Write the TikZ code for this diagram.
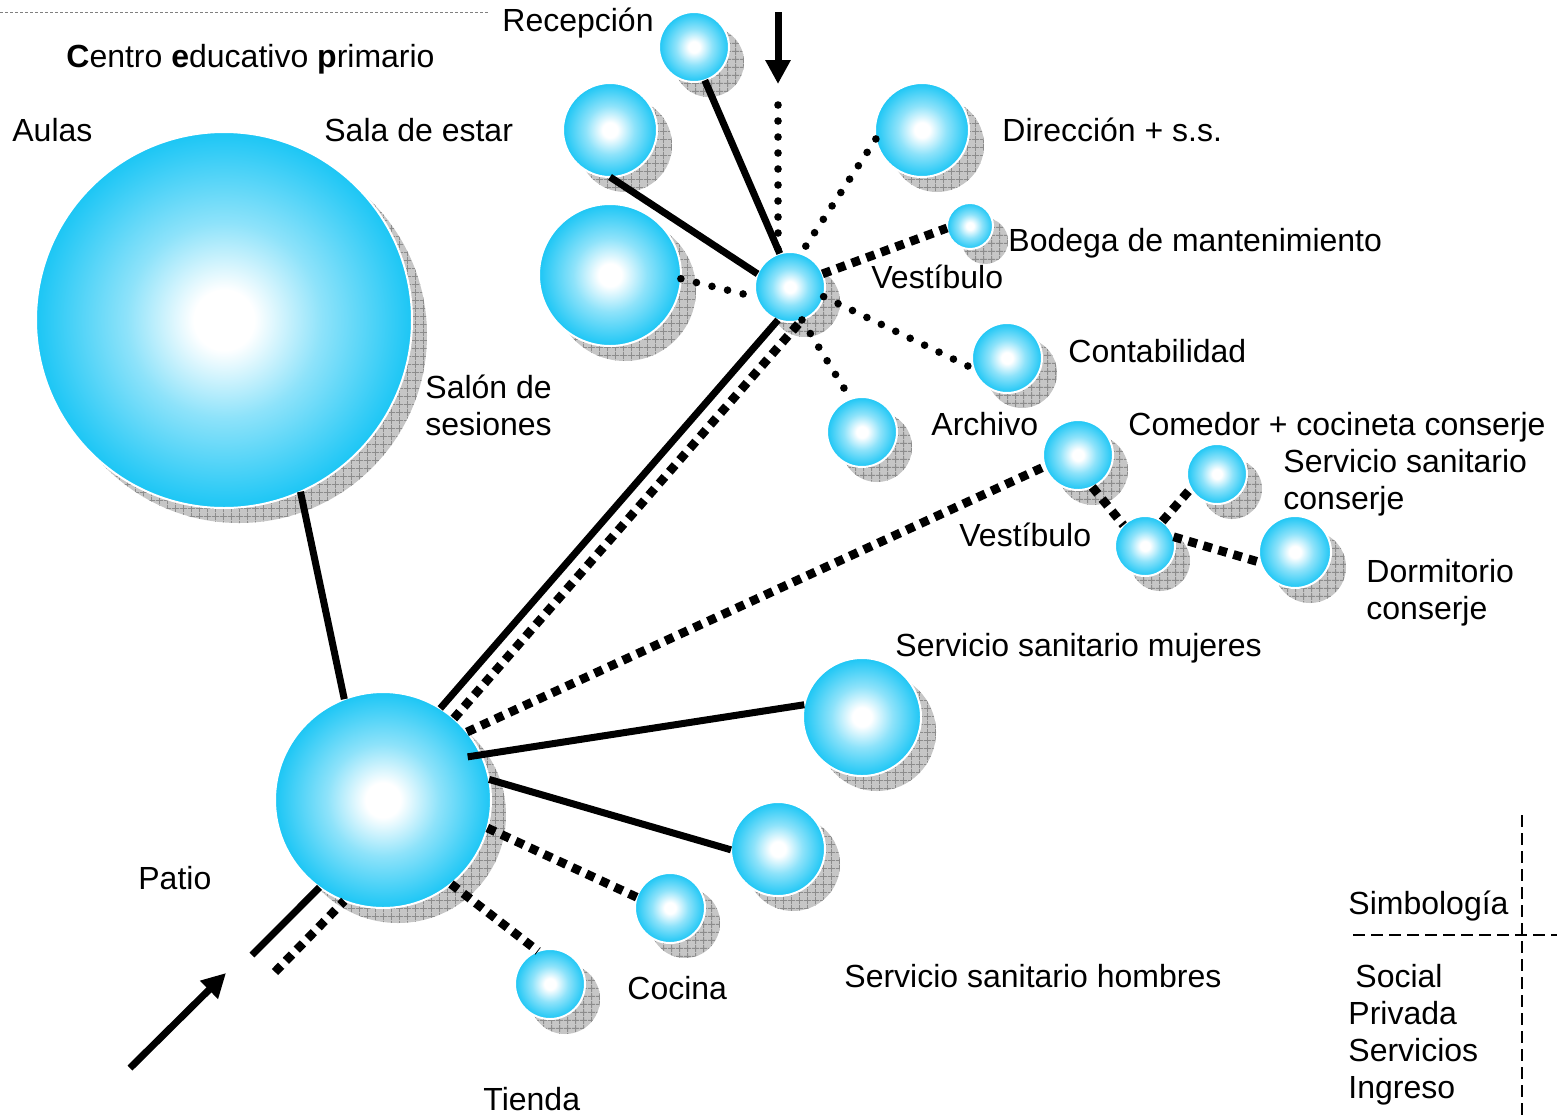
\documentclass[tikz,border=0pt]{standalone}
\usepackage{fontspec}
\setmainfont{Liberation Sans}
\usetikzlibrary{arrows.meta,patterns.meta,calc}
\definecolor{ballblue}{RGB}{28,198,245}
\definecolor{shadefill}{RGB}{198,198,198}
\definecolor{shadeline}{RGB}{140,140,140}
\pgfdeclareradialshading{ballshade}{\pgfpoint{0bp}{0bp}}{color(0bp)=(white); color(4bp)=(white); color(13bp)=(ballblue!50); color(25bp)=(ballblue); color(50bp)=(ballblue)}
\begin{document}
\begin{tikzpicture}[x=0.5pt,y=-0.5pt,
  ball/.style={circle, minimum size=#1pt, inner sep=0pt, outer sep=0pt, draw=white, line width=1pt, shading=ballshade},
  shadowst/.style={fill=shadefill, postaction={pattern={Hatch[angle=0,distance=4pt,line width=0.45pt]}, pattern color=shadeline}},
  solidc/.style={line width=3.5pt},
  rdot/.style={line width=3.8pt, line cap=round, dash pattern=on 0pt off 8pt},
  sqdot/.style={line width=4.4pt, dash pattern=on 4.4pt off 3.4pt},
  arrowc/.style={line width=3.5pt, -{Triangle[length=12pt,width=12pt]}},
  legline/.style={line width=0.8pt, dash pattern=on 6pt off 3pt},
  lbl/.style={anchor=base west, inner sep=0pt, font=\fontsize{16pt}{18.5pt}\selectfont}]
\useasboundingbox (0,0) rectangle (1557,1115);

% balls with shadows
\foreach \nm/\cx/\cy/\r in {aulas/224/320/188, patio/383/800/108, vest/790/287/35,
  recep/694/47/35, sala/610/130/47, salon/610/275/71, direc/922/130/47,
  bodega/970/226/23, conta/1007/358/35, archivo/862/432/35, comedor/1078/455/35,
  sscons/1217/474/30, vest2/1145/546/30, dormi/1295/552/36, ssm/862/717/59,
  ssh/778/849/47, cocina/670/908/35, tienda/550/984/35}{
  \fill[shadowst] (\cx+15,\cy+15) circle[radius=\r];
  \node[ball=\r] (\nm) at (\cx,\cy) {};
}

% connectors
\draw[solidc] (aulas.-66.5) -- (patio.111);
\draw[solidc] (recep.-72) -- (vest.107);
\draw[solidc] (sala.-90) -- (vest.158);
\draw[rdot] (salon.-3.5) -- (vest.-163);
\draw[rdot] (direc.-169.5) -- (vest.72);
\draw[sqdot] (vest.22.6) -- (bodega.-175);
\draw[rdot] (vest.-16.6) -- (conta.-162);
\draw[rdot] (vest.-70) -- (archivo.109);
\draw[solidc] (patio.58.2) -- (vest.-110);
\draw[sqdot] (patio.49) -- (vest.-70);
\draw[sqdot] (patio.39.6) -- (comedor.-161);
\draw[solidc] ($(patio)!0.88!(patio.27)$) -- (ssm.168.5);
\draw[solidc] (patio.11) -- (ssh.-179);
\draw[sqdot] (patio.-15.8) -- (cocina.162);
\draw[sqdot] (patio.-51.5) -- (tienda.110);
\draw[sqdot] (comedor.-66.8) -- (vest2.136);
\draw[sqdot] (vest2.55) -- (sscons.-151);
\draw[sqdot] (vest2.18) -- (dormi.-163);

% entries
\coordinate (inA) at (252,955);
\coordinate (inB) at (275,972);
\draw[solidc] (inA) -- (patio.-126);
\draw[sqdot] (inB) -- (patio.-111);
\coordinate (arrS) at (130,1068);
\coordinate (arrE) at (226,973);
\draw[arrowc] (arrS) -- (arrE);
\coordinate (topS) at (778,12);
\coordinate (topE) at (778,84);
\draw[arrowc] (topS) -- (topE);
\coordinate (topD) at (778,105);
\draw[rdot] (topD) -- (vest.110);

% top rule and legend lines
\coordinate (rule1) at (0,12);
\coordinate (rule2) at (490,12);
\draw[gray, line width=0.5pt, dash pattern=on 1.5pt off 1pt] (rule1) -- (rule2);
\coordinate (lv1) at (1522,815);
\coordinate (lv2) at (1522,1115);
\coordinate (lh1) at (1353,935);
\coordinate (lh2) at (1557,935);
\draw[legline] (lv1) -- (lv2);
\draw[legline] (lh1) -- (lh2);

% labels
\node[lbl] (t-centro) at (66,67) {\textbf{C}entro \textbf{e}ducativo \textbf{p}rimario};
\node[lbl] (t-recep) at (502,31) {Recepción};
\node[lbl] (t-aulas) at (12,141) {Aulas};
\node[lbl] (t-sala) at (324,141) {Sala de estar};
\node[lbl] (t-direc) at (1002,141) {Dirección + s.s.};
\node[lbl] (t-bodega) at (1008,251) {Bodega de mantenimiento};
\node[lbl] (t-vest) at (871,288) {Vestíbulo};
\node[lbl] (t-conta) at (1068,362) {Contabilidad};
\node[lbl] (t-salon1) at (425,398) {Salón de};
\node[lbl] (t-salon2) at (425,435) {sesiones};
\node[lbl] (t-archivo) at (931,435) {Archivo};
\node[lbl] (t-comedor) at (1128,435) {Comedor + cocineta conserje};
\node[lbl] (t-sscons1) at (1283,472) {Servicio sanitario};
\node[lbl] (t-sscons2) at (1283,509) {conserje};
\node[lbl] (t-vest2) at (959,546) {Vestíbulo};
\node[lbl] (t-dormi1) at (1366,582) {Dormitorio};
\node[lbl] (t-dormi2) at (1366,619) {conserje};
\node[lbl] (t-ssm) at (895,656) {Servicio sanitario mujeres};
\node[lbl] (t-patio) at (138,889) {Patio};
\node[lbl] (t-simb) at (1348,914) {Simbología};
\node[lbl] (t-cocina) at (627,999) {Cocina};
\node[lbl] (t-ssh) at (844,987) {Servicio sanitario hombres};
\node[lbl] (t-social) at (1355,987) {Social};
\node[lbl] (t-privada) at (1348,1024) {Privada};
\node[lbl] (t-servicios) at (1348,1061) {Servicios};
\node[lbl] (t-ingreso) at (1348,1098) {Ingreso};
\node[lbl] (t-tienda) at (483,1110) {Tienda};
\end{tikzpicture}
\end{document}
